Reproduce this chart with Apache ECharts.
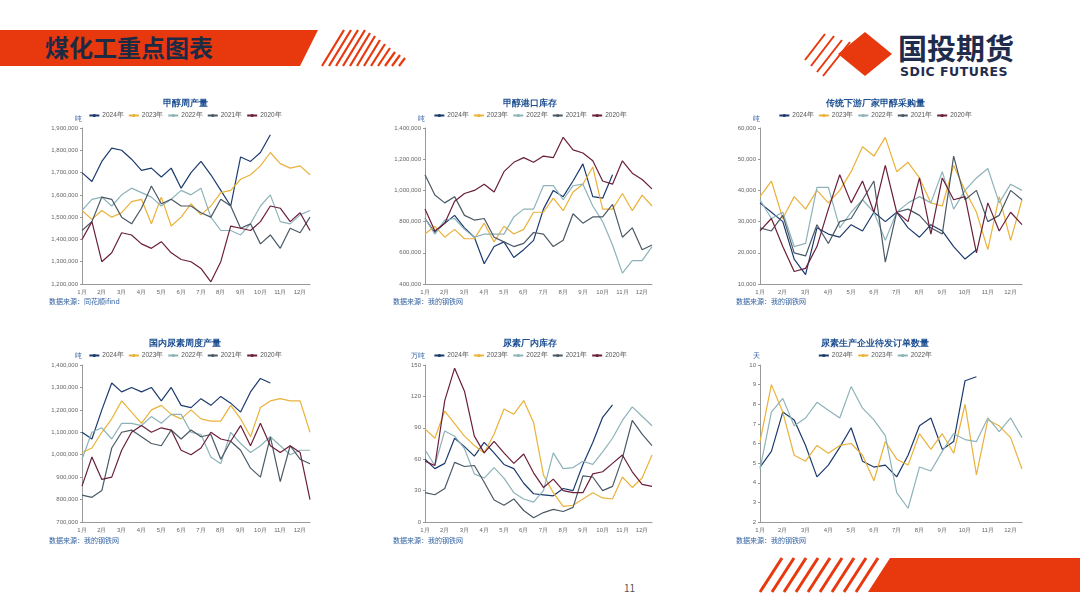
<!DOCTYPE html>
<html>
<head>
<meta charset="utf-8">
<script src="https://cdn.jsdelivr.net/npm/echarts@6/dist/echarts.min.js"></script>
<style>
body{margin:0;width:1080px;height:608px;background:#fff;position:relative;overflow:hidden;font-family:"Noto Sans CJK SC","Noto Sans",sans-serif;}
.c{position:absolute;}
.src{position:absolute;font-size:7px;color:#2f5fa0;}
</style>
</head>
<body>
<svg class="c" style="left:0;top:0" width="1080" height="608">
  <polygon points="0,30 318,30 300,66 0,66" fill="#e8380d"/>
  <g stroke="#e8380d" stroke-width="2.2">
    <line x1="322" y1="66" x2="344" y2="30"/><line x1="329" y1="66" x2="351" y2="30"/>
    <line x1="336" y1="66" x2="358" y2="30"/><line x1="343" y1="66" x2="365" y2="30"/>
    <line x1="350" y1="66" x2="370" y2="33"/><line x1="357" y1="66" x2="375" y2="36"/>
    <line x1="364" y1="66" x2="380" y2="40"/><line x1="371" y1="66" x2="385" y2="44"/>
    <line x1="378" y1="66" x2="390" y2="48"/><line x1="385" y1="66" x2="395" y2="52"/>
    <line x1="392" y1="66" x2="400" y2="55"/><line x1="399" y1="66" x2="405" y2="58"/>
  </g>
  <g stroke="#e8380d" stroke-width="2">
    <line x1="805" y1="60" x2="825" y2="34"/><line x1="811" y1="66" x2="834" y2="36"/>
    <line x1="817" y1="72" x2="842" y2="40"/><line x1="823" y1="76" x2="850" y2="42"/>
  </g>
  <polygon points="865,32 892,54 865,76 838,54" fill="#e8380d"/>
  <g stroke="#e8380d" stroke-width="3">
    <line x1="760" y1="592" x2="782" y2="558"/><line x1="772" y1="592" x2="794" y2="558"/>
    <line x1="784" y1="592" x2="806" y2="558"/><line x1="796" y1="592" x2="818" y2="558"/>
    <line x1="808" y1="592" x2="830" y2="558"/><line x1="820" y1="592" x2="842" y2="558"/>
    <line x1="832" y1="592" x2="854" y2="558"/><line x1="844" y1="592" x2="866" y2="558"/>
    <line x1="856" y1="592" x2="878" y2="558"/>
  </g>
  <polygon points="890,558 1080,558 1080,592 868,592" fill="#e8380d"/>
  <text x="45" y="57" font-size="24" font-weight="bold" fill="#1d2a44" font-family="Noto Sans CJK SC">煤化工重点图表</text>
  <text x="898" y="60" font-size="29" font-weight="bold" fill="#1f2c4c" font-family="Noto Sans CJK SC">国投期货</text>
  <text x="900" y="76" font-size="12.5" font-weight="bold" fill="#1f2c4c" font-family="DejaVu Sans" letter-spacing="0.5">SDIC FUTURES</text>
  <text x="624" y="592" font-size="10" fill="#555">11</text>
</svg>
<div id="c1" class="c" style="left:40px;top:92px;width:290px;height:210px"></div>
<div id="c2" class="c" style="left:385px;top:92px;width:290px;height:210px"></div>
<div id="c3" class="c" style="left:720px;top:92px;width:310px;height:210px"></div>
<div id="c4" class="c" style="left:40px;top:332px;width:290px;height:205px"></div>
<div id="c5" class="c" style="left:385px;top:332px;width:290px;height:205px"></div>
<div id="c6" class="c" style="left:720px;top:332px;width:310px;height:205px"></div>
<div class="src" style="left:49px;top:296px">数据来源：同花顺ifind</div>
<div class="src" style="left:393px;top:296px">数据来源：我的钢铁网</div>
<div class="src" style="left:736px;top:296px">数据来源：我的钢铁网</div>
<div class="src" style="left:49px;top:535px">数据来源：我的钢铁网</div>
<div class="src" style="left:393px;top:535px">数据来源：我的钢铁网</div>
<div class="src" style="left:736px;top:535px">数据来源：我的钢铁网</div>
<script>
// 半月频率，24个点
var weeks = [];
for (var m = 1; m <= 12; m++) { weeks.push(m + '月'); weeks.push(m + '月下'); }
var years = ['2024年', '2023年', '2022年', '2021年', '2020年'];
var colors = ['#1c3a6e', '#e9b23a', '#8db3b9', '#4b5965', '#6a1f3a'];

// 甲醇周产量（万吨）
var mProd2024 = [170,166,175,181,180,176,171,172,168,172,163,170,175,169,162,155,177,175,179,187];
var mProd2023 = [153,149,153,150,152,157,158,147,159,146,150,156,151,155,161,162,167,169,173,179,174,172,173,169];
var mProd2022 = [153,158,159,155,160,163,161,159,155,158,162,160,163,150,144,144,142,147,155,160,148,147,151,153];
var mProd2021 = [144,148,159,158,150,147,154,164,156,158,155,155,152,150,158,155,145,147,138,142,136,145,143,150];
var mProd2020 = [140,148,130,134,143,142,138,136,139,134,131,130,127,121,130,146,145,144,148,155,154,148,152,144];

// 甲醇港口库存（万吨）
var mPort2024 = [82,73,79,84,76,70,53,64,67,57,62,68,88,100,96,106,117,96,95,110];
var mPort2023 = [72,77,70,75,69,69,79,67,77,72,75,86,86,95,87,99,104,115,88,88,98,87,97,90];
var mPort2022 = [82,72,81,82,75,70,72,72,72,83,88,88,103,103,94,103,104,90,80,65,47,55,55,64];
var mPort2021 = [110,97,92,96,84,81,82,70,67,64,66,73,72,64,68,85,79,83,83,91,70,76,62,65];
var mPort2020 = [88,74,79,93,98,100,104,99,112,118,121,118,122,121,134,126,124,119,106,104,119,111,107,101];

// 传统下游甲醇采购量（千吨）
var mBuy2024 = [36,33,30,18,13,28,26,25,29,27,33,30,33,28,25,29,27,22,18,21];
var mBuy2023 = [38,43,31,38,34,40,36,40,46,54,51,57,46,49,44,36,35,48,40,33,21,38,24,37];
var mBuy2022 = [37,31,33,22,23,41,41,28,33,37,33,24,33,36,38,36,46,34,40,44,47,36,42,40];
var mBuy2021 = [28,27,32,20,19,29,23,30,31,37,43,17,33,34,32,28,26,51,37,40,30,32,40,37];
var mBuy2020 = [27,31,22,14,15,22,34,45,36,43,33,48,33,30,44,26,44,37,38,20,36,27,33,29];

// 尿素周度产量（万吨）
var uProd2024 = [110,107,120,132,128,130,128,130,124,130,122,121,125,122,126,123,119,128,134,132];
var uProd2023 = [101,103,110,116,124,119,114,120,122,118,116,120,116,115,115,122,116,108,121,124,125,124,124,110];
var uProd2022 = [98,110,112,107,114,114,113,117,114,118,118,110,109,99,96,110,105,101,104,108,104,100,102,102];
var uProd2021 = [82,81,84,103,110,111,108,105,104,111,107,111,108,109,98,106,102,94,90,108,88,104,98,96];
var uProd2020 = [86,99,89,90,102,110,113,110,112,111,102,100,103,110,107,106,113,104,114,104,101,104,101,80];

// 尿素厂内库存（万吨）
var uInv2024 = [60,51,56,80,72,63,76,66,55,51,37,27,26,25,32,30,55,76,100,112];
var uInv2023 = [89,80,106,94,82,73,66,84,108,103,116,95,45,28,15,16,22,28,23,22,43,33,42,64];
var uInv2022 = [69,54,87,82,70,46,42,52,42,28,22,19,30,66,51,52,58,55,67,80,97,110,101,92];
var uInv2021 = [28,26,32,57,53,54,38,21,16,22,11,4,9,12,10,14,44,43,30,34,61,97,84,73];
var uInv2020 = [58,54,116,147,125,82,66,77,66,56,65,47,33,41,30,28,28,46,48,56,64,48,36,34];

// 尿素待发订单天数
var uOrd2024 = [4.8,5.6,7.6,7.2,5.9,4.3,4.9,5.8,6.8,5.1,4.8,4.9,4.3,5.4,6.9,7.3,5.7,6.1,9.2,9.4];
var uOrd2023 = [6.1,9.0,7.6,5.4,5.1,5.9,5.5,5.9,6.0,5.4,4.1,6.1,5.2,4.9,6.5,5.7,6.5,5.5,8.0,4.4,7.2,6.9,6.3,4.7];
var uOrd2022 = [4.7,7.6,8.3,6.9,7.3,8.1,7.7,7.3,8.9,7.8,7.2,6.4,3.5,2.7,4.8,4.6,5.6,6.5,6.2,6.1,7.3,6.6,7.3,6.3];

function fmt(v) { return v.toLocaleString('en-US'); }

function draw(id, title, unit, grid, yMin, yMax, step, scale, list, useFmt) {
  var chart = echarts.init(document.getElementById(id));
  var n = list.length;
  chart.setOption({
    animation: false,
    color: colors,
    title: {text: title, left: 'center', top: 2,
      textStyle: {fontSize: 9, fontWeight: 'bold', color: '#1d4f91'}},
    legend: {data: years.slice(0, n), top: 15, itemWidth: 10, itemHeight: 4, itemGap: 4,
      textStyle: {fontSize: 6.5, color: '#555', padding: [0, 0, 0, -2]}},
    grid: grid,
    xAxis: {
      type: 'category', boundaryGap: false, data: weeks,
      axisLine: {lineStyle: {color: '#999'}},
      axisTick: {show: false},
      axisLabel: {fontSize: 6, color: '#666', interval: 1, margin: 5,
        formatter: function (v) { return v.indexOf('下') > 0 ? '' : v; }}
    },
    yAxis: {
      type: 'value', min: yMin, max: yMax, interval: step,
      name: unit, nameGap: 5, nameTextStyle: {fontSize: 7, color: '#2f5fa0', align: 'right'},
      splitLine: {show: false},
      axisLine: {show: true, lineStyle: {color: '#999'}},
      axisTick: {show: true, length: 2},
      axisLabel: {fontSize: 6, color: '#666', margin: 4,
        formatter: function (v) { return useFmt ? fmt(v) : v; }}
    },
    series: list.map(function (d, i) {
      return {name: years[i], type: 'line', symbol: 'none', showSymbol: false,
        lineStyle: {width: 1.2}, data: d.map(function (v) { return v * scale; })};
    })
  });
}

draw('c1', '甲醇周产量', '吨', {left: 42, right: 20, top: 36, bottom: 18},
  1200000, 1900000, 100000, 10000, [mProd2024, mProd2023, mProd2022, mProd2021, mProd2020], true);
draw('c2', '甲醇港口库存', '吨', {left: 40, right: 23, top: 36, bottom: 18},
  400000, 1400000, 200000, 10000, [mPort2024, mPort2023, mPort2022, mPort2021, mPort2020], true);
draw('c3', '传统下游厂家甲醇采购量', '吨', {left: 40, right: 8, top: 36, bottom: 18},
  10000, 60000, 10000, 1000, [mBuy2024, mBuy2023, mBuy2022, mBuy2021, mBuy2020], true);
draw('c4', '国内尿素周度产量', '吨', {left: 42, right: 20, top: 33, bottom: 15},
  700000, 1400000, 100000, 10000, [uProd2024, uProd2023, uProd2022, uProd2021, uProd2020], true);
draw('c5', '尿素厂内库存', '万吨', {left: 40, right: 23, top: 33, bottom: 15},
  0, 150, 30, 1, [uInv2024, uInv2023, uInv2022, uInv2021, uInv2020], false);
draw('c6', '尿素生产企业待发订单数量', '天', {left: 40, right: 8, top: 33, bottom: 15},
  2, 10, 1, 1, [uOrd2024, uOrd2023, uOrd2022], false);
</script>
</body>
</html>
